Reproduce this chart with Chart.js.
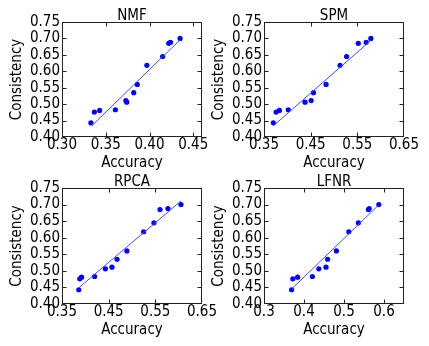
<!DOCTYPE html>
<html><head><meta charset="utf-8">
<script src="https://cdn.jsdelivr.net/npm/chart.js@4.4.0/dist/chart.umd.min.js"></script>
<style>
html,body{margin:0;padding:0;background:#fff;}
#wrap{position:relative;width:429px;height:346px;overflow:hidden;background:#fff;}
#wrap canvas{position:absolute;left:0;top:0;}
</style></head><body>
<div id="wrap">
<canvas id="c0" width="429" height="346"></canvas>
<canvas id="c1" width="429" height="346"></canvas>
<canvas id="c2" width="429" height="346"></canvas>
<canvas id="c3" width="429" height="346"></canvas>
</div>
<script>
// ---- data ----
const titles = ['NMF', 'SPM', 'RPCA', 'LFNR'];
const consistency = [0.443, 0.476, 0.481, 0.483, 0.506, 0.511, 0.535, 0.560, 0.618, 0.645, 0.685, 0.688, 0.700];
const accNMF  = [0.333, 0.337, 0.343, 0.361, 0.374, 0.373, 0.382, 0.386, 0.397, 0.415, 0.422, 0.424, 0.435];
const accSPM  = [0.370, 0.376, 0.383, 0.402, 0.438, 0.451, 0.456, 0.483, 0.513, 0.527, 0.552, 0.569, 0.579];
const accRPCA = [0.386, 0.388, 0.392, 0.420, 0.443, 0.457, 0.468, 0.489, 0.525, 0.547, 0.560, 0.577, 0.605];
const accLFNR = [0.369, 0.372, 0.384, 0.421, 0.437, 0.455, 0.459, 0.481, 0.512, 0.536, 0.561, 0.563, 0.587];
const fitNMFx  = [0.334, 0.435], fitNMFy  = [0.434, 0.696];
const fitSPMx  = [0.370, 0.579], fitSPMy  = [0.434, 0.694];
const fitRPCAx = [0.386, 0.605], fitRPCAy = [0.449, 0.711];
const fitLFNRx = [0.369, 0.587], fitLFNRy = [0.445, 0.699];
const xTicksNMF  = [0.30, 0.35, 0.40, 0.45], xLabelsNMF  = ['0.30', '0.35', '0.40', '0.45'];
const xTicksSPM  = [0.35, 0.45, 0.55, 0.65], xLabelsSPM  = ['0.35', '0.45', '0.55', '0.65'];
const xTicksRPCA = [0.35, 0.45, 0.55, 0.65], xLabelsRPCA = ['0.35', '0.45', '0.55', '0.65'];
const xTicksLFNR = [0.3, 0.4, 0.5, 0.6],     xLabelsLFNR = ['0.3', '0.4', '0.5', '0.6'];
const xRangeNMF = [0.30, 0.46], xRangeSPM = [0.35, 0.65], xRangeRPCA = [0.35, 0.65], xRangeLFNR = [0.30, 0.65];
const yTicks = [0.40, 0.45, 0.50, 0.55, 0.60, 0.65, 0.70, 0.75];
const yLabels = ['0.40', '0.45', '0.50', '0.55', '0.60', '0.65', '0.70', '0.75'];
const yRange = [0.40, 0.75];
const xTitle = 'Accuracy', yTitle = 'Consistency';

// ---- drawing ----
const FAMILY = "'DejaVu Sans Condensed', 'DejaVu Sans', sans-serif";
const tickFont = {family: FAMILY, size: 15, weight: 'normal', lineHeight: 1};
const titleFont = {family: FAMILY, size: 15, weight: 'normal', lineHeight: 1};

const panels = [
  {acc: accNMF,  fx: fitNMFx,  fy: fitNMFy,  xt: xTicksNMF,  xl: xLabelsNMF,  xr: xRangeNMF,  pad: {left: 0,   top: 0,   right: 227, bottom: 174}},
  {acc: accSPM,  fx: fitSPMx,  fy: fitSPMy,  xt: xTicksSPM,  xl: xLabelsSPM,  xr: xRangeSPM,  pad: {left: 202, top: 0,   right: 25,  bottom: 174}},
  {acc: accRPCA, fx: fitRPCAx, fy: fitRPCAy, xt: xTicksRPCA, xl: xLabelsRPCA, xr: xRangeRPCA, pad: {left: 0,   top: 166, right: 227, bottom: 7}},
  {acc: accLFNR, fx: fitLFNRx, fy: fitLFNRy, xt: xTicksLFNR, xl: xLabelsLFNR, xr: xRangeLFNR, pad: {left: 202, top: 166, right: 25,  bottom: 7}}
];

const framePlugin = {
  id: 'frame',
  afterDraw(chart) {
    const {ctx, chartArea: a, scales: {x, y}} = chart;
    const L = Math.round(a.left) + 0.5, R = Math.round(a.right) - 0.5;
    const T = Math.round(a.top) + 0.5, B = Math.round(a.bottom) - 0.5;
    ctx.save();
    ctx.strokeStyle = '#222';
    ctx.lineWidth = 1;
    ctx.strokeRect(L, T, R - L, B - T);
    ctx.beginPath();
    x.ticks.forEach(t => {
      const px = Math.round(x.getPixelForValue(t.value)) + 0.5;
      if (px <= L + 1 || px >= R - 1) return;
      ctx.moveTo(px, B); ctx.lineTo(px, B - 4);
      ctx.moveTo(px, T); ctx.lineTo(px, T + 4);
    });
    y.ticks.forEach(t => {
      const py = Math.round(y.getPixelForValue(t.value)) + 0.5;
      if (py <= T + 1 || py >= B - 1) return;
      ctx.moveTo(L, py); ctx.lineTo(L + 4, py);
      ctx.moveTo(R, py); ctx.lineTo(R - 4, py);
    });
    ctx.stroke();
    ctx.restore();
  }
};

panels.forEach((p, i) => {
  const pts = p.acc.map((v, k) => ({x: v, y: consistency[k]}));
  const line = p.fx.map((v, k) => ({x: v, y: p.fy[k]}));
  new Chart(document.getElementById('c' + i), {
    type: 'scatter',
    data: {datasets: [
      {data: line, showLine: true, borderColor: '#4646ff', borderWidth: 1, pointRadius: 0, fill: false},
      {data: pts, backgroundColor: '#0000ff', borderColor: '#0000ff', pointRadius: 2.6, pointBorderWidth: 0, pointHoverRadius: 2.6}
    ]},
    options: {
      responsive: false, animation: false, events: [],
      layout: {padding: p.pad},
      plugins: {
        legend: {display: false}, tooltip: {enabled: false},
        title: {display: true, text: titles[i], fullSize: false, color: '#000', font: titleFont, padding: {top: 9, bottom: -2}}
      },
      scales: {
        x: {
          type: 'linear', min: p.xr[0], max: p.xr[1],
          afterFit: s => { s.height = 35; },
          afterBuildTicks: s => { s.ticks = p.xt.map(v => ({value: v})); },
          ticks: {callback: (v, k) => p.xl[k], autoSkip: false, maxRotation: 0, minRotation: 0, padding: 1, color: '#000', font: tickFont},
          grid: {display: false, drawTicks: false}, border: {display: false},
          title: {display: true, text: xTitle, color: '#000', font: tickFont, padding: {top: 0, bottom: 1}}
        },
        y: {
          type: 'linear', min: yRange[0], max: yRange[1],
          afterFit: s => { s.width = 62; },
          afterBuildTicks: s => { s.ticks = yTicks.map(v => ({value: v})); },
          ticks: {callback: (v, k) => yLabels[k], autoSkip: false, padding: 2, color: '#000', font: tickFont},
          grid: {display: false, drawTicks: false}, border: {display: false},
          title: {display: true, text: yTitle, color: '#000', font: tickFont, padding: {top: 10, bottom: 0}}
        }
      }
    },
    plugins: [framePlugin]
  });
});
</script>
</body></html>
